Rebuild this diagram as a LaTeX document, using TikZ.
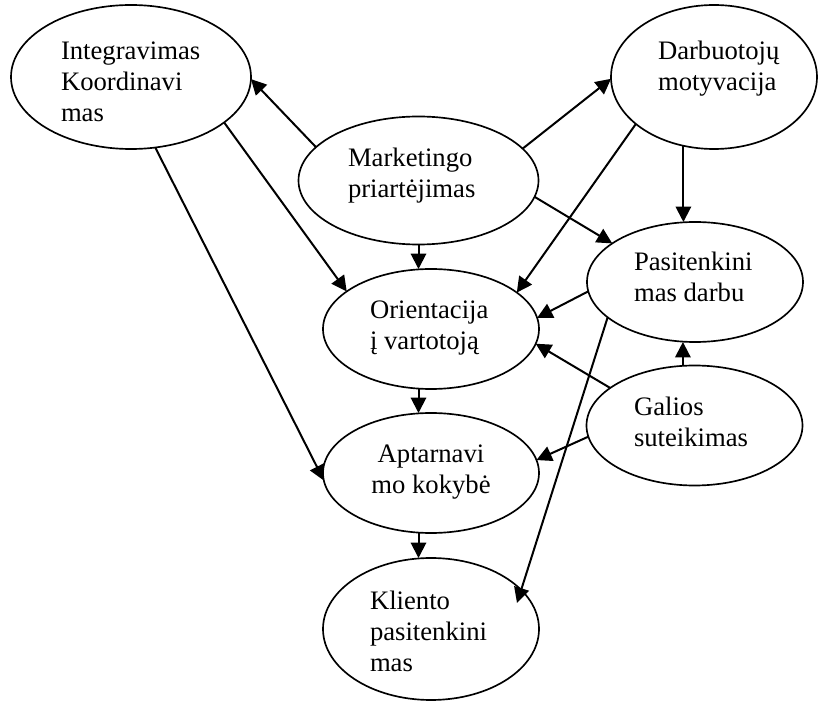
\documentclass[tikz,border=0pt]{standalone}
\usepackage{fontspec}
\setmainfont{Liberation Serif}
\usetikzlibrary{shapes.geometric,arrows.meta,calc}
\begin{document}
\begin{tikzpicture}[x=0.75pt,y=-0.75pt,
  oval/.style 2 args={ellipse, draw, line width=1.25pt, inner sep=0pt, outer sep=0pt,
    minimum width=#1*0.75pt, minimum height=#2*0.75pt},
  txt/.style={inner sep=0pt, outer sep=0pt, font=\fontsize{20pt}{22.9pt}\selectfont},
  link/.style={line width=1.5pt, -{Triangle[length=11.5pt,width=11.5pt]}}
]
\useasboundingbox (0,0) rectangle (819,702);

% ovals
\node[oval={240}{144}] (integ)  at (131,77)    {};
\node[oval={206}{144}] (darb)   at (714,77)    {};
\node[oval={240}{128}] (mark)   at (418.5,180.5) {};
\node[oval={216}{120}] (orient) at (431,329)   {};
\node[oval={216}{120}] (pasit)  at (695,282)   {};
\node[oval={216}{120}] (galios) at (694.5,425.5) {};
\node[oval={216}{120}] (aptarn) at (431,473)   {};
\node[oval={216}{142}] (klient) at (431,629)   {};

% texts
\node[txt, anchor=base west] (integtxt) at (61,60)
  {\begin{tabular}[t]{@{}l@{}}Integravimas\\Koordinavi\\mas\end{tabular}};
\node[txt, anchor=base west] (darbtxt) at (658,60)
  {\begin{tabular}[t]{@{}l@{}}Darbuotojų\\motyvacija\end{tabular}};
\node[txt, anchor=base west] (marktxt) at (348,167)
  {\begin{tabular}[t]{@{}l@{}}Marketingo\\priartėjimas\end{tabular}};
\node[txt, anchor=base west] (orienttxt) at (370,319)
  {\begin{tabular}[t]{@{}l@{}}Orientacija\\į vartotoją\end{tabular}};
\node[txt, anchor=base west] (pasittxt) at (634,271)
  {\begin{tabular}[t]{@{}l@{}}Pasitenkini\\mas darbu\end{tabular}};
\node[txt, anchor=base west] (galiostxt) at (634,416)
  {\begin{tabular}[t]{@{}l@{}}Galios\\suteikimas\end{tabular}};
\node[txt, anchor=base] (aptarntxt) at (431,463)
  {\begin{tabular}[t]{@{}c@{}}Aptarnavi\\mo kokybė\end{tabular}};
\node[txt, anchor=base west] (klienttxt) at (370,610)
  {\begin{tabular}[t]{@{}l@{}}Kliento\\pasitenkini\\mas\end{tabular}};

% connectors
\draw[link] (mark.162) -- (integ.-1.4);
\draw[link] (mark.17.5) -- (darb.181);
\draw[link] (mark.-8.3) -- (pasit.155.9);
\draw[link] (mark.south) -- (mark.south |- orient.north);
\draw[link] (darb.-114) -- (darb.-114 |- pasit.north);
\draw[link] (darb.211.8) -- (orient.23.3);
\draw[link] (integ.-26.6) -- (orient.156.7);
\draw[link] (integ.-71.6) -- (aptarn.184.7);
\draw[link] (pasit.185.9) -- (orient.6.8);
\draw[link] (pasit.202.4) -- ($(klient.center)+(86,-26)$);
\draw[link] (galios.156.1) -- (orient.-8.4);
\draw[link] (galios.186.2) -- (aptarn.7.3);
\draw[link] (galios.101) -- (galios.101 |- pasit.south);
\draw[link] (orient.south -| mark.south) -- (aptarn.north -| mark.south);
\draw[link] (aptarn.south -| mark.south) -- (klient.north -| mark.south);
\end{tikzpicture}
\end{document}
